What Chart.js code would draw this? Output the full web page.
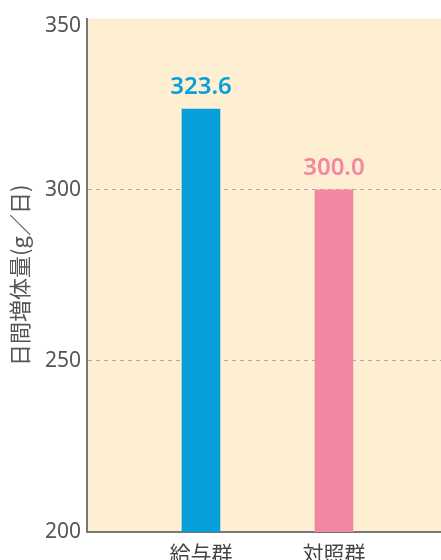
<!DOCTYPE html>
<html>
<head>
<meta charset="utf-8">
<script src="https://cdn.jsdelivr.net/npm/chart.js@4/dist/chart.umd.min.js"></script>
<style>
  html, body { margin: 0; padding: 0; background: #fff; }
  #wrap { width: 441px; height: 560px; }
</style>
</head>
<body>
<div id="wrap"><canvas id="chart"></canvas></div>
<script>
// Data
const categories = ['給与群', '対照群'];
const gainValues = [323.6, 300.0];
const barColors = ['#069fda', '#f286a3'];
const yTicks = [200, 250, 300, 350];

const AXIS_GRAY = '#777';
const TEXT_GRAY = '#555';

// Plot area background
const plotBackground = {
  id: 'plotBackground',
  beforeDraw(chart) {
    const { ctx, chartArea: a } = chart;
    ctx.save();
    ctx.fillStyle = '#feefd3';
    ctx.fillRect(a.left, a.top, a.right - a.left, a.bottom - a.top);
    ctx.restore();
  }
};

// Top tick label sits a little lower, inside the canvas
const nudgeTopTick = {
  id: 'nudgeTopTick',
  afterLayout(chart) {
    const items = chart.scales.y.getLabelItems();
    items.forEach(item => {
      if (item.label === String(yTicks[yTicks.length - 1])) {
        item.options.translation[1] += 7;
      }
    });
  }
};

// Value labels above bars
const valueLabels = {
  id: 'valueLabels',
  afterDatasetsDraw(chart) {
    const { ctx } = chart;
    const meta = chart.getDatasetMeta(0);
    ctx.save();
    ctx.font = '600 24px "Noto Sans", sans-serif';
    ctx.textAlign = 'center';
    ctx.textBaseline = 'alphabetic';
    meta.data.forEach((bar, i) => {
      ctx.fillStyle = barColors[i];
      ctx.fillText(gainValues[i].toFixed(1), bar.x, bar.y - 15);
    });
    ctx.restore();
  }
};

new Chart(document.getElementById('chart'), {
  type: 'bar',
  data: {
    datasets: [{
      data: gainValues.map((v, i) => ({ x: i + 1, y: v })),
      backgroundColor: barColors,
      borderWidth: 0,
      barThickness: 38
    }]
  },
  options: {
    responsive: true,
    maintainAspectRatio: false,
    animation: false,
    layout: { padding: { top: 16, right: 0, bottom: 0, left: 0 } },
    plugins: {
      legend: { display: false },
      tooltip: { enabled: false }
    },
    scales: {
      x: {
        type: 'linear',
        offset: false,
        min: 0.143,
        max: 2.805,
        afterBuildTicks: scale => {
          scale.ticks = categories.map((c, i) => ({ value: i + 1 }));
        },
        afterFit: scale => { scale.height = 28; },
        grid: { display: false, offset: false },
        border: { display: true, color: AXIS_GRAY, width: 2 },
        ticks: {
          padding: 0,
          color: '#444',
          font: { family: '"Noto Sans CJK JP", sans-serif', size: 21 },
          callback: v => categories[v - 1] || ''
        }
      },
      y: {
        min: 200,
        max: 350,
        afterBuildTicks: scale => {
          scale.ticks = yTicks.map(v => ({ value: v }));
        },
        afterFit: scale => { scale.width = 87; },
        grid: {
          drawTicks: false,
          lineWidth: 1,
          color: c => (c.tick && (c.tick.value === 250 || c.tick.value === 300)) ? '#aaa' : 'transparent'
        },
        border: { display: true, color: AXIS_GRAY, width: 2, dash: [4, 4] },
        ticks: {
          padding: 6,
          color: TEXT_GRAY,
          font: { family: '"Noto Sans", sans-serif', size: 21 }
        },
        title: {
          display: true,
          text: '日間増体量(g／日)',
          color: TEXT_GRAY,
          padding: { top: 6, bottom: 0 },
          font: { family: '"Noto Sans CJK JP", sans-serif', size: 22 }
        }
      }
    }
  },
  plugins: [plotBackground, nudgeTopTick, valueLabels]
});
</script>
</body>
</html>
